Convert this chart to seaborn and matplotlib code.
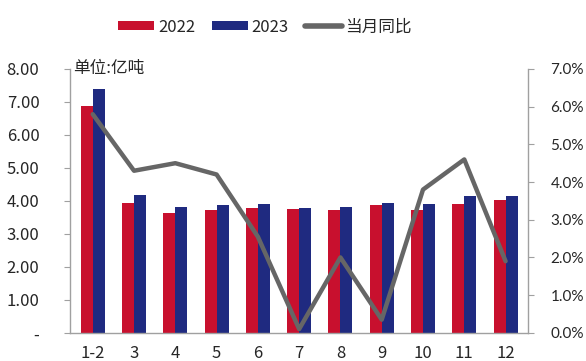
import matplotlib
matplotlib.use("Agg")
import matplotlib.pyplot as plt
from matplotlib.patches import Patch
from matplotlib.lines import Line2D
import seaborn as sns
import pandas as pd

# Monthly output (亿吨) and month-on-month YoY growth
months = ["1-2", "3", "4", "5", "6", "7", "8", "9", "10", "11", "12"]
output_2022 = [6.87, 3.95, 3.62, 3.71, 3.79, 3.75, 3.72, 3.87, 3.71, 3.91, 4.04]
output_2023 = [7.38, 4.19, 3.83, 3.87, 3.91, 3.79, 3.83, 3.95, 3.91, 4.15, 4.15]
yoy_pct = [5.8, 4.3, 4.5, 4.2, 2.55, 0.1, 2.0, 0.35, 3.8, 4.6, 1.9]

left_ticks = [0, 1, 2, 3, 4, 5, 6, 7, 8]
right_ticks = [0, 1, 2, 3, 4, 5, 6, 7]

RED = "#C8102E"
BLUE = "#1F2A80"
GREY = "#666666"
AXIS = "#A0A0A0"

sns.set_theme(style="white")
plt.rcParams["font.family"] = ["Noto Sans CJK SC", "DejaVu Sans"]

df = pd.DataFrame({
    "month": months * 2,
    "value": output_2022 + output_2023,
    "year": ["2022"] * len(months) + ["2023"] * len(months),
})

fig = plt.figure(figsize=(5.86, 3.61), dpi=100)
ax = fig.add_axes([0.1195, 0.078, 0.782, 0.731])

sns.barplot(data=df, x="month", y="value", hue="year", order=months,
            hue_order=["2022", "2023"], palette=[RED, BLUE], width=0.58,
            linewidth=0, saturation=1, ax=ax, legend=False)

ax.set_ylim(0, 8)
ax.set_xlim(-0.55, len(months) - 0.45)
ax.set_yticks(left_ticks)
ax.set_yticklabels(["-" if v == 0 else f"{v:.2f}" for v in left_ticks], fontsize=12)
ax.set_xlabel("")
ax.set_ylabel("")
ax.tick_params(axis="x", length=0, labelsize=12, pad=9)
ax.tick_params(axis="y", length=4, width=0.8, color=AXIS, direction="out", pad=18)
for s in ["left", "bottom"]:
    ax.spines[s].set_color(AXIS)
    ax.spines[s].set_linewidth(1.0)
ax.spines["top"].set_visible(False)
ax.spines["right"].set_visible(False)

ax2 = ax.twinx()
sns.lineplot(x=months, y=yoy_pct, sort=False, color=GREY, linewidth=3.2, ax=ax2)
ax2.set_ylim(0, 7)
ax2.set_yticks(right_ticks)
ax2.set_yticklabels([f"{v:.1f}%" for v in right_ticks], fontsize=11, family="Lato")
ax2.tick_params(axis="y", length=4, width=0.8, color=AXIS, direction="out", pad=12)
ax2.set_xlim(-0.55, len(months) - 0.45)
for s in ["top", "left", "bottom"]:
    ax2.spines[s].set_visible(False)
ax2.spines["right"].set_color(AXIS)
ax2.spines["right"].set_linewidth(1.0)
ax2.grid(False)

ax.text(0.006, 1.0, "单位:亿吨", transform=ax.transAxes, fontsize=12,
        va="center", ha="left")

handles = [Patch(facecolor=RED, edgecolor="none"),
           Patch(facecolor=BLUE, edgecolor="none"),
           Line2D([0], [0], color=GREY, linewidth=4)]
fig.legend(handles, ["2022", "2023", "当月同比"], loc="center",
           bbox_to_anchor=(0.452, 0.925), ncol=3, frameon=False, fontsize=12,
           handlelength=2.2, handleheight=0.5, handletextpad=0.2,
           columnspacing=1.0)

fig.savefig("out.png", dpi=100)
